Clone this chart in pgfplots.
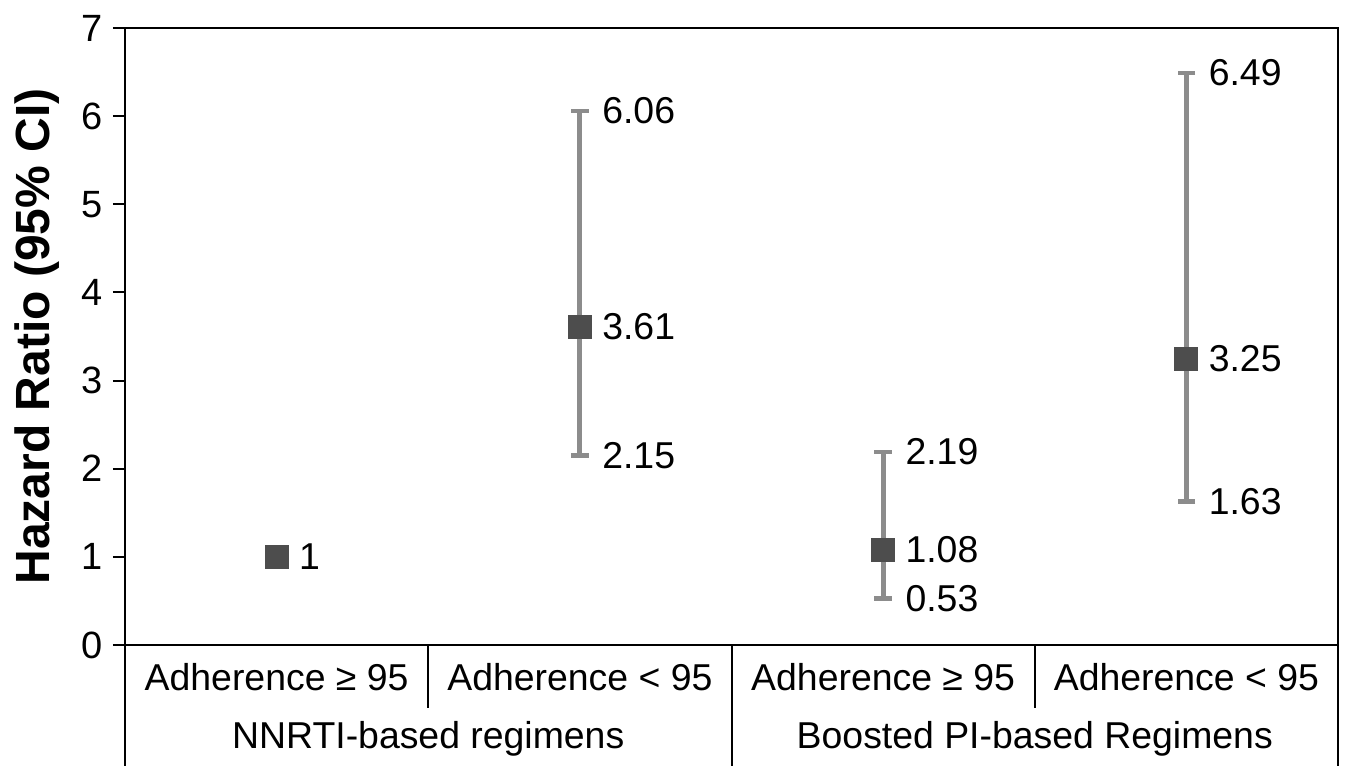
\documentclass[border=0pt]{standalone}
\usepackage{pgfplots}
\pgfplotsset{compat=1.18}
\usepackage{fontspec}
\setmainfont{Liberation Sans}
\definecolor{sqcol}{HTML}{4D4D4D}
\definecolor{barcol}{HTML}{8C8C8C}
\newcommand{\fs}{\fontsize{18.7pt}{22pt}\selectfont}
\begin{document}
\begin{tikzpicture}
\begin{axis}[
  scale only axis,
  width=606.5pt, height=308.5pt,
  xmin=-0.5, xmax=3.5, ymin=0, ymax=7,
  clip=false,
  axis line style={line width=1pt},
  xtick=\empty,
  ytick={0,1,...,7},
  ytick pos=left,
  tick align=outside,
  major tick length=6pt,
  tick style={line width=1pt, black},
  /pgf/number format/assume math mode=true,
  yticklabel style={font=\fontsize{19pt}{22pt}\selectfont, inner sep=0pt, xshift=-5pt},
  ylabel={Hazard Ratio (95\% CI)},
  ylabel style={font=\fontsize{24pt}{26pt}\selectfont\bfseries, at={(rel axis cs:-0.0725,0.5)}, anchor=center},
]
% CI caps (upper and lower limits)
\addplot[only marks, mark=-, mark size=4.4pt, mark options={line width=2.3pt, barcol}]
  table[x=x, y=y] {
x y
1 6.06
1 2.15
2 2.19
2 0.53
3 6.49
3 1.63
};
% reference point (no CI)
\addplot[only marks, mark=square*, mark size=5.75pt, mark options={fill=sqcol, draw=sqcol}]
  table[x=x, y=y] {
x y
0 1
};
% points with confidence intervals
\addplot[only marks, mark=square*, mark size=5.75pt, mark options={fill=sqcol, draw=sqcol},
  error bars/.cd, y dir=both, y explicit, error mark=none,
  error bar style={line width=2.5pt, barcol}]
  table[x=x, y=y, y error plus=ep, y error minus=em] {
x y ep em
1 3.61 2.45 1.46
2 1.08 1.11 0.55
3 3.25 3.24 1.62
};
% value labels
\addplot[draw=none, nodes near coords, point meta=explicit symbolic,
  nodes near coords style={anchor=west, inner sep=0pt, xshift=11pt, font=\fs, text=black}]
  table[x=x, y=y, meta=lab] {
x y lab
0 1 1
1 3.61 3.61
1 6.06 6.06
1 2.15 2.15
2 1.08 1.08
2 2.19 2.19
2 0.53 0.53
3 3.25 3.25
3 6.49 6.49
3 1.63 1.63
};
% category table below the axis
\draw[line width=1pt] (axis cs:-0.5,0) -- (rel axis cs:0,-0.19611);
\draw[line width=1pt] (axis cs:3.5,0) -- (rel axis cs:1,-0.19611);
\draw[line width=1pt] (axis cs:1.5,0) -- (rel axis cs:0.5,-0.19611);
\draw[line width=1pt] (axis cs:0.5,0) -- (rel axis cs:0.25,-0.1021);
\draw[line width=1pt] (axis cs:2.5,0) -- (rel axis cs:0.75,-0.1021);
\node[font=\fs] at (rel axis cs:0.125,-0.0519) {Adherence ≥ 95};
\node[font=\fs] at (rel axis cs:0.375,-0.0519) {Adherence < 95};
\node[font=\fs] at (rel axis cs:0.625,-0.0519) {Adherence ≥ 95};
\node[font=\fs] at (rel axis cs:0.875,-0.0519) {Adherence < 95};
\node[font=\fs] at (rel axis cs:0.25,-0.1524) {NNRTI-based regimens};
\node[font=\fs] at (rel axis cs:0.75,-0.1524) {Boosted PI-based Regimens};
\coordinate (bl) at (rel axis cs:-0.10305,-0.19611);
\coordinate (tr) at (rel axis cs:1.00577,1.04538);
\end{axis}
\pgfresetboundingbox
\path (bl) rectangle (tr);
\end{tikzpicture}
\end{document}
